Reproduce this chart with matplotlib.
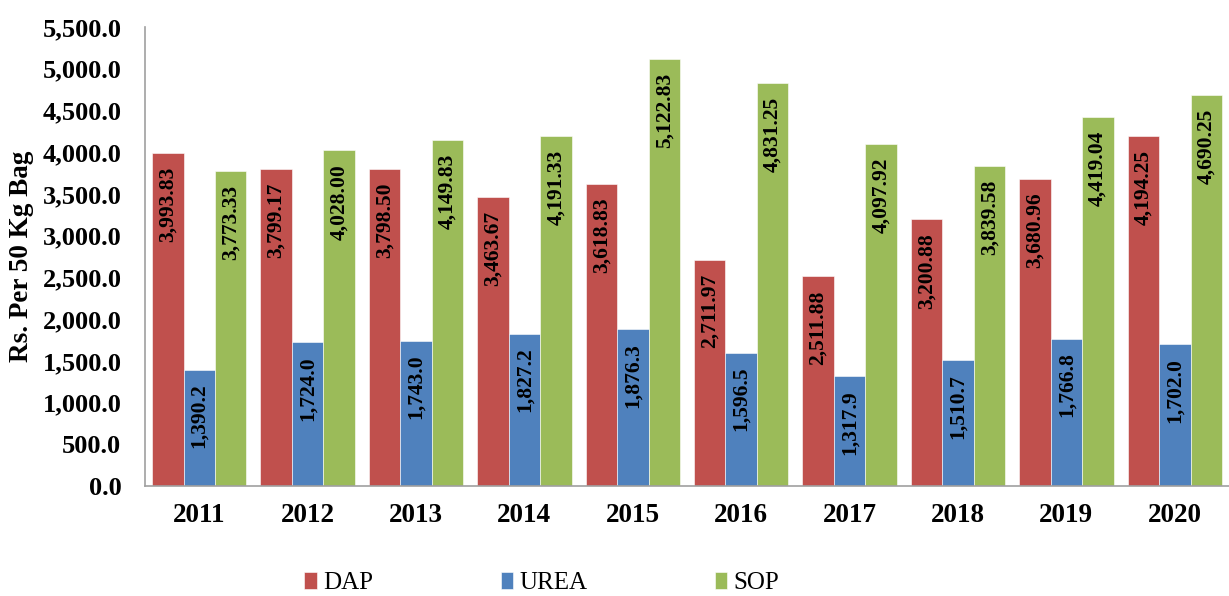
import matplotlib
matplotlib.use("Agg")
import matplotlib.pyplot as plt
import numpy as np

years = ["2011", "2012", "2013", "2014", "2015", "2016", "2017", "2018", "2019", "2020"]
dap = [3993.83, 3799.17, 3798.50, 3463.67, 3618.83, 2711.97, 2511.88, 3200.88, 3680.96, 4194.25]
urea = [1390.2, 1724.0, 1743.0, 1827.2, 1876.3, 1596.5, 1317.9, 1510.7, 1766.8, 1702.0]
sop = [3773.33, 4028.00, 4149.83, 4191.33, 5122.83, 4831.25, 4097.92, 3839.58, 4419.04, 4690.25]

series = [("DAP", dap, "#C0504D", "{:,.2f}"),
          ("UREA", urea, "#4F81BD", "{:,.1f}"),
          ("SOP", sop, "#9BBB59", "{:,.2f}")]

plt.rcParams['font.family'] = ['Liberation Serif', 'DejaVu Serif']

fig = plt.figure(figsize=(12.29, 5.96), dpi=100)
ax = fig.add_axes([0.118, 0.1846, 0.882, 0.770])

x = np.arange(len(years))
w = 0.29
for i, (name, vals, col, fmt) in enumerate(series):
    xs = x + (i - 1) * w
    ax.bar(xs, vals, width=w, color=col, label=name, edgecolor='white', linewidth=0.4)
    for xi, v in zip(xs, vals):
        ax.annotate(fmt.format(v), (xi, v), xytext=(0, -10), textcoords='offset points',
                    rotation=90, ha='center', va='top', fontsize=15.5, fontweight='bold')

ax.set_xlim(-0.5, len(years) - 0.5)
ax.set_ylim(0, 5500)
ax.set_yticks(np.arange(0, 5501, 500))
ax.set_yticklabels(["{:,.1f}".format(v) for v in np.arange(0, 5501, 500)],
                   fontsize=19, fontweight='bold')
ax.set_xticks(x)
ax.set_xticklabels(years, fontsize=19.5, fontweight='bold')
ax.tick_params(axis='both', length=0)
ax.tick_params(axis='x', pad=12)
ax.tick_params(axis='y', pad=17)
ax.set_ylabel("Rs. Per 50 Kg Bag", fontsize=19.5, fontweight='bold', labelpad=6)
for s in ['top', 'right']:
    ax.spines[s].set_visible(False)
for s in ['left', 'bottom']:
    ax.spines[s].set_color('#A0A0A0')
    ax.spines[s].set_linewidth(1.2)

fig.legend(loc='lower center', bbox_to_anchor=(0.441, -0.035), ncol=3, frameon=False,
           prop=dict(family='Liberation Serif', size=18),
           handlelength=0.5, handleheight=0.7, handletextpad=0.25,
           columnspacing=5.1)

fig.savefig("out.png", dpi=100)
